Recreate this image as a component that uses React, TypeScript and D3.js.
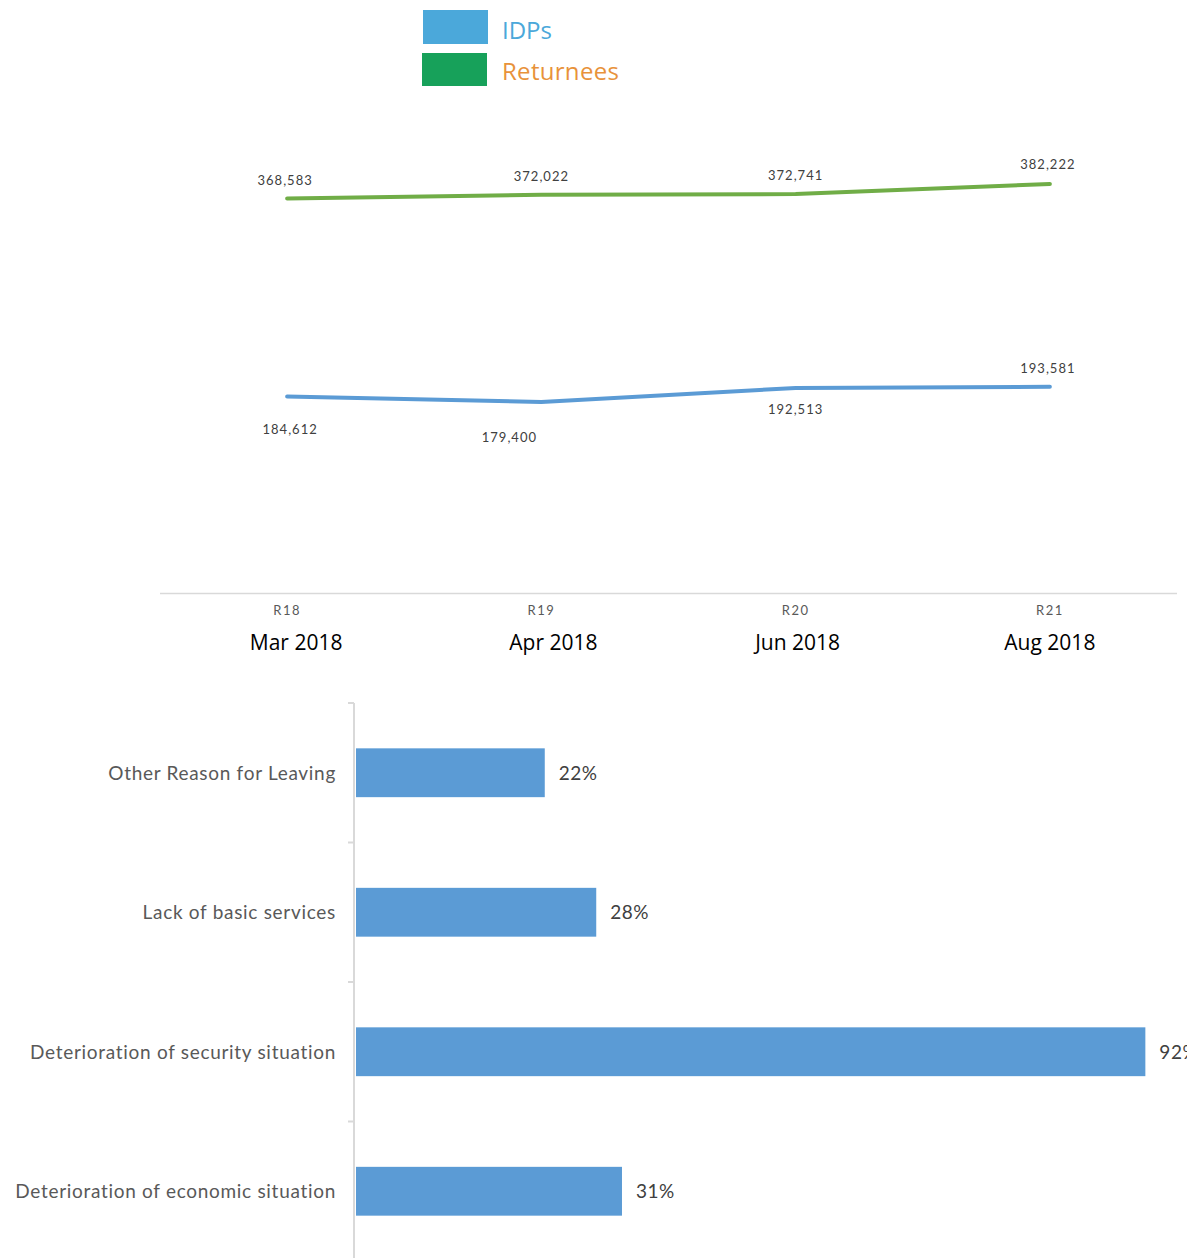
import React from "react";
import * as d3 from "d3";

const rounds = ["R18", "R19", "R20", "R21"];
const months = ["Mar 2018", "Apr 2018", "Jun 2018", "Aug 2018"];
const returnees = [368583, 372022, 372741, 382222];
const idps = [184612, 179400, 192513, 193581];

const reasons = [
  "Other Reason for Leaving",
  "Lack of basic services",
  "Deterioration of security situation",
  "Deterioration of economic situation",
];
const reasonPct = [22, 28, 92, 31];

// label layout offsets (dx, dy relative to point)
const retLabelOffset = [[-2, -14], [0, -14], [0, -14], [-2, -15]];
const idpLabelOffset = [[3, 38], [-32, 40], [0, 26], [-2, -14]];
const monthOffset = [9, 12, 2, 0];

export default function App() {
  const W = 1187, H = 1258;
  const x = d3.scaleBand<string>().domain(rounds).range([160, 1177]);
  const y = d3.scaleLinear().domain([0, 450000]).range([595, 111]);
  const cx = (i: number) => (x(rounds[i]) as number) + x.bandwidth() / 2;
  const line = d3.line<number>().x((_, i) => cx(i)).y((d) => y(d));

  const by = d3.scaleBand<string>().domain(reasons).range([703, 1261]).paddingInner(0.65).paddingOuter(0.325);
  const bx = d3.scaleLinear().domain([0, 100]).range([356, 1214]);
  const step = by.step();

  const labelFont = "Lato, 'DejaVu Sans', sans-serif";
  const calFont = "'Open Sans', 'Noto Sans', sans-serif";
  const fmt = d3.format(",");

  return (
    <svg width={W} height={H} style={{ position: "absolute", left: 0, top: 0, background: "#fff" }}>
      {/* Legend */}
      <rect x={423} y={10} width={65} height={34} fill="#4BA8DA" />
      <text x={502} y={39} fontFamily={calFont} fontSize={24} fill="#4BA8DA">IDPs</text>
      <rect x={422} y={53} width={65} height={33} fill="#17A15A" />
      <text x={502} y={80} fontFamily={calFont} fontSize={24} letterSpacing={0.3} fill="#E8923A">Returnees</text>

      {/* Line chart axis */}
      <line x1={160} x2={1177} y1={593.5} y2={593.5} stroke="#D9D9D9" strokeWidth={1.5} />
      {rounds.map((r, i) => (
        <g key={r}>
          <text x={cx(i)} y={615} textAnchor="middle" fontFamily={labelFont} fontSize={13} letterSpacing={1.5} fill="#595959">{r}</text>
          <text x={cx(i) + monthOffset[i]} y={650} textAnchor="middle" fontFamily={calFont} fontSize={21} fill="#000">{months[i]}</text>
        </g>
      ))}

      <path d={line(returnees) || ""} fill="none" stroke="#70AD47" strokeWidth={4} strokeLinecap="round" />
      <path d={line(idps) || ""} fill="none" stroke="#5B9BD5" strokeWidth={4} strokeLinecap="round" />

      {returnees.map((v, i) => (
        <text key={"r" + i} x={cx(i) + retLabelOffset[i][0]} y={y(v) + retLabelOffset[i][1]} textAnchor="middle" fontFamily={labelFont} fontSize={13} letterSpacing={1} fill="#404040">{fmt(v)}</text>
      ))}
      {idps.map((v, i) => (
        <text key={"i" + i} x={cx(i) + idpLabelOffset[i][0]} y={y(v) + idpLabelOffset[i][1]} textAnchor="middle" fontFamily={labelFont} fontSize={13} letterSpacing={1} fill="#404040">{fmt(v)}</text>
      ))}

      {/* Bar chart */}
      <line x1={354} x2={354} y1={703} y2={1258} stroke="#D9D9D9" strokeWidth={2} />
      {reasons.map((r, i) => {
        const yb = (by(r) as number) - (step - by.bandwidth()) / 2;
        return <line key={"t" + i} x1={348} x2={354} y1={yb} y2={yb} stroke="#D9D9D9" strokeWidth={2} />;
      })}
      {reasons.map((r, i) => (
        <g key={r}>
          <rect x={bx(0)} y={by(r) as number} width={bx(reasonPct[i]) - bx(0)} height={by.bandwidth()} fill="#5B9BD5" />
          <text x={bx(reasonPct[i]) + 14} y={(by(r) as number) + by.bandwidth() / 2 + 7} fontFamily={labelFont} fontSize={19} letterSpacing={0.5} fill="#404040">{reasonPct[i]}%</text>
          <text x={336} y={(by(r) as number) + by.bandwidth() / 2 + 7} textAnchor="end" fontFamily={labelFont} fontSize={19} letterSpacing={0.7} fill="#595959">{r}</text>
        </g>
      ))}
    </svg>
  );
}
